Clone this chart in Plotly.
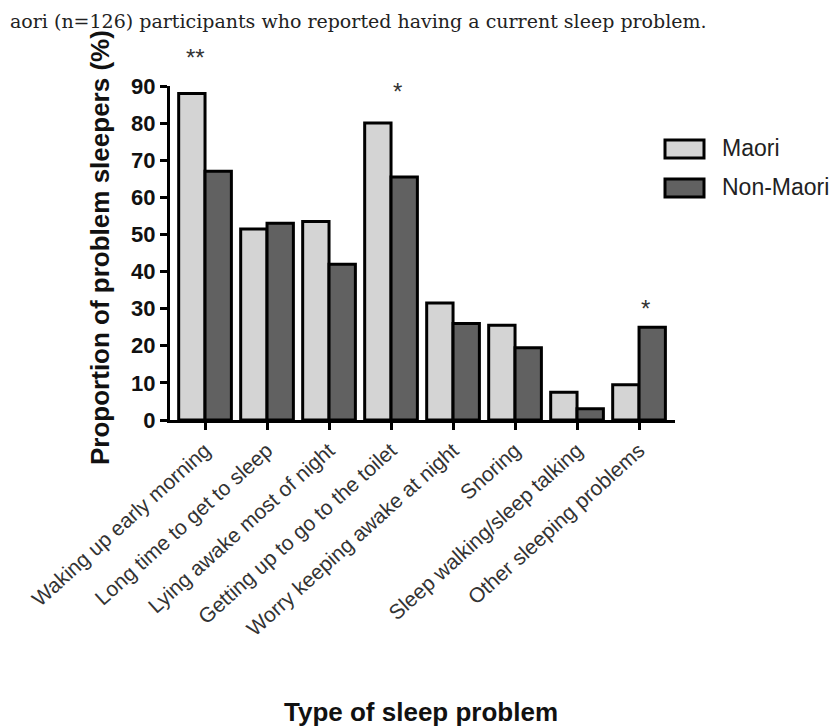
import plotly.graph_objects as go

categories = [
    "Waking up early morning",
    "Long time to get to sleep",
    "Lying awake most of night",
    "Getting up to go to the toilet",
    "Worry keeping awake at night",
    "Snoring",
    "Sleep walking/sleep talking",
    "Other sleeping problems",
]
maori = [88, 51.5, 53.5, 80, 31.5, 25.5, 7.5, 9.5]
non_maori = [67, 53, 42, 65.5, 26, 19.5, 3, 25]

# significance markers: (category index, label, height in %)
sig_idx = [0, 3, 7]
sig_labels = ["**", "*", "*"]
sig_offsets = [-0.16, 0.11, 0.1]
sig_heights = [99.5, 90.5, 32]

W, H = 838, 728
L, R, T, B = 162, 667, 78, 412
PW, PH = R - L, B - T


def px(p):
    return (p - L) / PW


def py(p):
    return (B - p) / PH


fig = go.Figure()
fig.add_trace(go.Bar(
    x=categories, y=maori, name="Maori",
    marker=dict(color="#d4d4d4", line=dict(color="#000000", width=3)),
    showlegend=False,
))
fig.add_trace(go.Bar(
    x=categories, y=non_maori, name="Non-Maori",
    marker=dict(color="#616161", line=dict(color="#000000", width=3)),
    showlegend=False,
))

annotations = []
y_range = [0, 90]
for i, lab, off, h in zip(sig_idx, sig_labels, sig_offsets, sig_heights):
    annotations.append(dict(
        x=i + off, xref="x", y=h / y_range[1], yref="paper",
        text=lab, showarrow=False, xanchor="center", yanchor="middle",
        yshift=-7,
        font=dict(family="Arial, Liberation Sans", size=24, color="#333333"),
    ))

# axis titles
annotations.append(dict(
    x=px(92), y=py(240), xref="paper", yref="paper",
    text="Proportion of problem sleepers (%)", textangle=-90,
    showarrow=False, xanchor="center", yanchor="middle",
    font=dict(family="Arial, Liberation Sans", size=26, color="#111111", weight="bold"),
))
annotations.append(dict(
    x=px(413), y=py(704), xref="paper", yref="paper",
    text="Type of sleep problem",
    showarrow=False, xanchor="center", yanchor="middle",
    font=dict(family="Arial, Liberation Sans", size=26, color="#111111", weight="bold"),
))
# caption at top
annotations.append(dict(
    x=px(0), y=py(13), xref="paper", yref="paper",
    text="aori (n=126) participants who reported having a current sleep problem.",
    showarrow=False, xanchor="left", yanchor="middle",
    font=dict(family="DejaVu Serif, Liberation Serif, serif", size=19, color="#222222"),
))

# custom legend
legend_names = ["Maori", "Non-Maori"]
legend_colors = ["#d4d4d4", "#616161"]
legend_rows = [141, 180]
shapes = []
for name, col, yc in zip(legend_names, legend_colors, legend_rows):
    shapes.append(dict(
        type="rect", xref="paper", yref="paper",
        x0=px(657), x1=px(696), y0=py(yc + 9), y1=py(yc - 9),
        fillcolor=col, line=dict(color="#000000", width=3),
    ))
    annotations.append(dict(
        x=px(712), y=py(yc - 1), xref="paper", yref="paper",
        text=name, showarrow=False, xanchor="left", yanchor="middle",
        font=dict(family="Arial, Liberation Sans", size=23, color="#222222"),
    ))

fig.update_layout(
    width=W, height=H,
    margin=dict(l=L, r=W - R, t=T, b=H - B, pad=0),
    paper_bgcolor="white", plot_bgcolor="white",
    barmode="group", bargap=0.15, bargroupgap=0,
    annotations=annotations, shapes=shapes,
    showlegend=False,
)
fig.update_xaxes(
    type="category", range=[-0.565, 7.58],
    showline=True, linecolor="#000000", linewidth=3,
    ticks="outside", ticklen=7, tickwidth=3, tickcolor="#000000",
    tickangle=-42,
    tickfont=dict(family="Arial, Liberation Sans", size=21, color="#333333"),
    showgrid=False, zeroline=False,
)
fig.update_yaxes(
    range=y_range, tickvals=list(range(0, 91, 10)),
    showline=True, linecolor="#000000", linewidth=3,
    ticks="outside", ticklen=7, tickwidth=3, tickcolor="#000000",
    tickfont=dict(family="Arial, Liberation Sans", size=22, color="#111111", weight="bold"),
    showgrid=False, zeroline=False,
)

fig.write_html("out.html")
